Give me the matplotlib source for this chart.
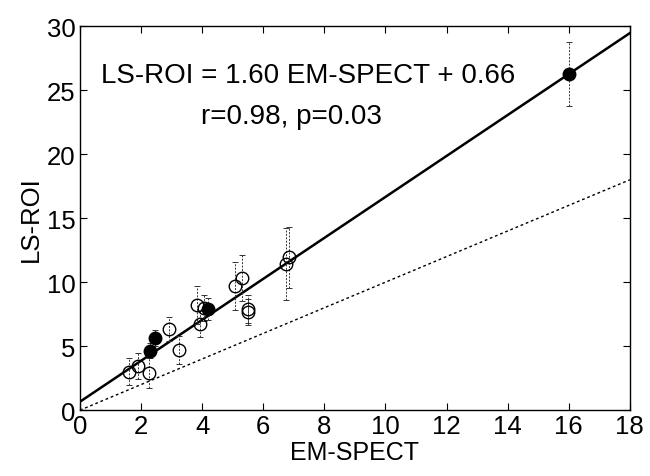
import matplotlib
matplotlib.use("Agg")
import matplotlib.pyplot as plt
import numpy as np

plt.rcParams["font.family"] = ["Liberation Sans", "DejaVu Sans"]

# open circles
open_x = [1.6, 1.9, 2.26, 2.91, 3.24, 3.84, 3.93, 4.05, 5.07, 5.31, 5.51, 5.51, 6.75, 6.84]
open_y = [3.0, 3.45, 2.9, 6.33, 4.7, 8.2, 6.75, 8.0, 9.7, 10.3, 7.9, 7.65, 11.4, 11.95]
open_err = [1.05, 1.05, 1.2, 0.95, 1.1, 1.5, 1.0, 1.0, 1.9, 1.8, 1.1, 1.0, 2.8, 2.4]

# filled circles
fill_x = [2.29, 2.47, 4.18, 16.0]
fill_y = [4.65, 5.65, 7.9, 26.25]
fill_err = [0.6, 0.6, 0.85, 2.5]

slope, intercept = 1.60, 0.66
xlim = (0, 18)
ylim = (0, 30)

fig = plt.figure(figsize=(6.5, 4.77), dpi=100)
ax = fig.add_axes([0.123, 0.138, 0.846, 0.805])

xs = np.array(xlim)
ax.plot(xs, slope * xs + intercept, color="black", lw=1.8, zorder=2)
ax.plot(xs, xs, color="black", lw=1.0, ls=(0, (2, 2)), zorder=1)

eb = dict(fmt="none", ecolor="#333333", elinewidth=0.7, capsize=2.5, capthick=0.7)
e1 = ax.errorbar(open_x, open_y, yerr=open_err, **eb)
e2 = ax.errorbar(fill_x, fill_y, yerr=fill_err, **eb)
for e in (e1, e2):
    for lc in e[2]:
        lc.set_linestyle((0, (2, 1.5)))

ax.plot(open_x, open_y, "o", ms=9, mfc="none", mec="black", mew=1.0, zorder=3)
ax.plot(fill_x, fill_y, "o", ms=9, mfc="black", mec="black", zorder=3)

ax.text(0.415, 0.872, "LS-ROI = 1.60 EM-SPECT + 0.66", transform=ax.transAxes,
        ha="center", va="center", fontsize=20)
ax.text(0.384, 0.765, "r=0.98, p=0.03", transform=ax.transAxes,
        ha="center", va="center", fontsize=20)

ax.set_xlim(*xlim)
ax.set_ylim(*ylim)
ax.set_xticks(np.arange(0, 19, 2))
ax.set_yticks(np.arange(0, 31, 5))
ax.tick_params(direction="in", top=True, right=True, labelsize=18.5, length=5, pad=3)
ax.set_xlabel("EM-SPECT", fontsize=18, labelpad=1)
ax.set_ylabel("LS-ROI", fontsize=18.5, labelpad=3)
for s in ax.spines.values():
    s.set_linewidth(1.0)

fig.savefig("out.png", dpi=100)
